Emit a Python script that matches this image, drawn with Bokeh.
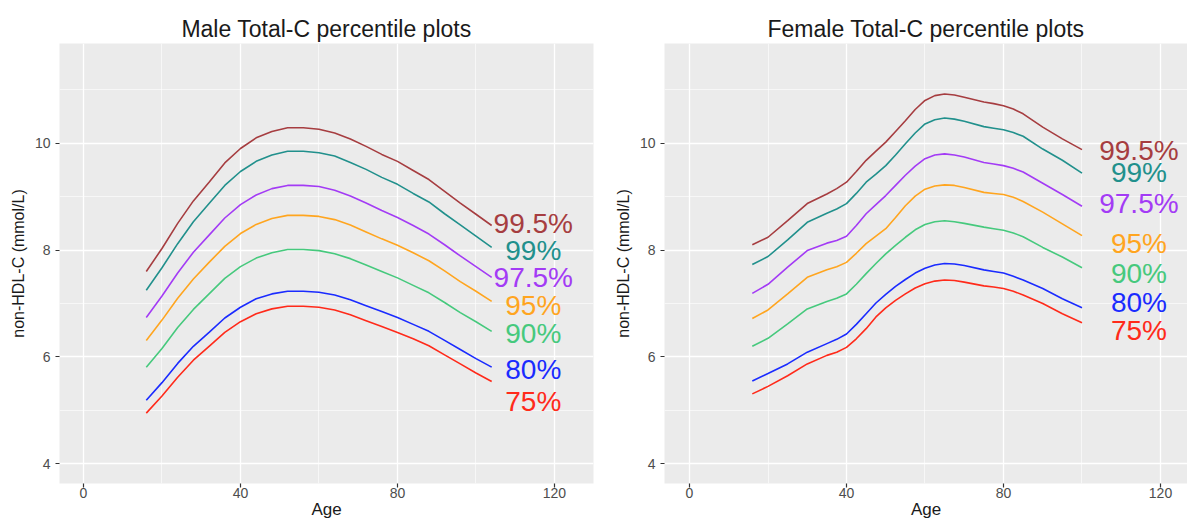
from bokeh.plotting import figure
from bokeh.layouts import row
from bokeh.models import ColumnDataSource, FixedTicker
from bokeh.core.properties import value
from bokeh.embed import file_html
from bokeh.resources import INLINE

FONT = "Liberation Sans"

# ---------------- data ----------------
percentiles = ["99.5%", "99%", "97.5%", "95%", "90%", "80%", "75%"]
colors = ["#A63D40", "#21908C", "#A33BF5", "#FFA51F", "#46C97D", "#1A2BFF", "#FF2A1A"]

male_age = [16, 20, 24, 28, 32, 36, 40, 44, 48, 52, 56, 60, 64, 68, 72, 76, 80, 84, 88, 92, 96, 100, 104]
male_p995 = [7.60, 8.03, 8.50, 8.92, 9.27, 9.63, 9.90, 10.10, 10.22, 10.29, 10.29, 10.26, 10.19, 10.08, 9.94, 9.79, 9.66, 9.49, 9.32, 9.10, 8.88, 8.67, 8.46]
male_p99 = [7.25, 7.67, 8.12, 8.53, 8.87, 9.21, 9.47, 9.66, 9.78, 9.85, 9.85, 9.82, 9.76, 9.64, 9.51, 9.36, 9.23, 9.06, 8.90, 8.68, 8.47, 8.26, 8.05]
male_p975 = [6.74, 7.14, 7.57, 7.96, 8.28, 8.60, 8.85, 9.03, 9.15, 9.21, 9.21, 9.19, 9.12, 9.01, 8.88, 8.74, 8.61, 8.46, 8.30, 8.10, 7.89, 7.69, 7.49]
male_p95 = [6.31, 6.69, 7.10, 7.46, 7.77, 8.07, 8.31, 8.48, 8.59, 8.65, 8.65, 8.63, 8.57, 8.47, 8.34, 8.21, 8.09, 7.95, 7.80, 7.61, 7.41, 7.23, 7.04]
male_p90 = [5.81, 6.16, 6.55, 6.89, 7.18, 7.47, 7.69, 7.85, 7.95, 8.01, 8.01, 7.99, 7.93, 7.84, 7.72, 7.60, 7.48, 7.34, 7.20, 7.02, 6.83, 6.66, 6.48]
male_p80 = [5.19, 5.52, 5.88, 6.20, 6.46, 6.73, 6.93, 7.09, 7.18, 7.23, 7.23, 7.21, 7.16, 7.07, 6.96, 6.85, 6.74, 6.61, 6.48, 6.31, 6.14, 5.97, 5.81]
male_p75 = [4.95, 5.27, 5.62, 5.94, 6.20, 6.46, 6.66, 6.81, 6.90, 6.95, 6.95, 6.93, 6.88, 6.79, 6.68, 6.57, 6.46, 6.34, 6.21, 6.04, 5.87, 5.70, 5.54]
male_label_x = [114.6, 114.6, 114.6, 114.6, 114.6, 114.6, 114.6]
male_label_y = [8.50, 7.99, 7.49, 6.96, 6.44, 5.76, 5.17]

female_age = [16, 20, 25, 30, 35, 37.5, 40, 42.5, 45, 47.5, 50, 52.5, 55, 57.5, 60, 62.5, 65, 67.5,
              70, 75, 77.5, 80, 82.5, 85, 90, 95, 100]
female_p995 = [8.10, 8.24, 8.55, 8.87, 9.05, 9.15, 9.27, 9.47, 9.68, 9.85, 10.02, 10.22, 10.42, 10.63, 10.80, 10.89, 10.92, 10.90,
               10.86, 10.77, 10.74, 10.70, 10.64, 10.55, 10.30, 10.08, 9.88]
female_p99 = [7.73, 7.88, 8.19, 8.52, 8.69, 8.77, 8.87, 9.06, 9.27, 9.42, 9.58, 9.78, 9.99, 10.19, 10.36, 10.44, 10.47, 10.45,
              10.41, 10.31, 10.28, 10.25, 10.20, 10.13, 9.89, 9.68, 9.44]
female_p975 = [7.19, 7.36, 7.68, 7.99, 8.13, 8.18, 8.26, 8.46, 8.68, 8.85, 9.02, 9.21, 9.40, 9.57, 9.71, 9.78, 9.80, 9.78,
               9.74, 9.64, 9.61, 9.58, 9.53, 9.46, 9.25, 9.04, 8.82]
female_p95 = [6.72, 6.88, 7.18, 7.49, 7.63, 7.69, 7.77, 7.94, 8.12, 8.26, 8.40, 8.61, 8.83, 9.01, 9.14, 9.20, 9.22, 9.21,
              9.17, 9.08, 9.06, 9.04, 8.99, 8.91, 8.71, 8.49, 8.27]
female_p90 = [6.20, 6.35, 6.62, 6.90, 7.04, 7.10, 7.18, 7.36, 7.56, 7.75, 7.93, 8.09, 8.24, 8.38, 8.48, 8.53, 8.55, 8.53,
              8.50, 8.43, 8.40, 8.37, 8.32, 8.25, 8.05, 7.87, 7.67]
female_p80 = [5.55, 5.69, 5.87, 6.09, 6.25, 6.33, 6.43, 6.61, 6.81, 7.01, 7.17, 7.32, 7.45, 7.57, 7.66, 7.72, 7.75, 7.74,
              7.71, 7.63, 7.60, 7.57, 7.51, 7.44, 7.28, 7.09, 6.92]
female_p75 = [5.31, 5.45, 5.65, 5.87, 6.03, 6.09, 6.18, 6.34, 6.53, 6.75, 6.92, 7.06, 7.18, 7.29, 7.37, 7.42, 7.44, 7.43,
              7.40, 7.33, 7.31, 7.28, 7.23, 7.16, 7.00, 6.81, 6.64]
female_label_x = [114.5, 114.5, 114.5, 114.5, 114.5, 114.5, 114.5]
female_label_y = [9.86, 9.46, 8.87, 8.12, 7.57, 7.01, 6.50]

x_ticks = [0, 40, 80, 120]
x_minor = [20, 60, 100]
y_ticks = [4, 6, 8, 10]
y_minor = [5, 7, 9, 11]

male_series = [male_p995, male_p99, male_p975, male_p95, male_p90, male_p80, male_p75]
female_series = [female_p995, female_p99, female_p975, female_p95, female_p90, female_p80, female_p75]


def make_panel(title, ages, series, lab_x, lab_y, width, x_range, border_left, border_right,
               title_offset):
    p = figure(width=width, height=521, x_range=x_range, y_range=(3.633, 11.865),
               output_backend="svg", toolbar_location=None,
               min_border_left=border_left, min_border_right=border_right,
               min_border_top=43, min_border_bottom=38)
    p.background_fill_color = "#EBEBEB"
    p.border_fill_color = "white"
    p.outline_line_color = None

    p.title.text = title
    p.title.align = "center"
    p.title.text_font = FONT
    p.title.text_font_size = "23px"
    p.title.text_font_style = "normal"
    p.title.text_color = "#1A1A1A"
    p.title.standoff = 4
    p.title.offset = title_offset

    p.xaxis.ticker = FixedTicker(ticks=x_ticks, minor_ticks=x_minor)
    p.yaxis.ticker = FixedTicker(ticks=y_ticks, minor_ticks=y_minor)
    for ax in (p.xaxis[0], p.yaxis[0]):
        ax.axis_line_color = None
        ax.major_tick_line_color = "#333333"
        ax.major_tick_line_width = 1.2
        ax.major_tick_in = 0
        ax.major_tick_out = 4
        ax.minor_tick_line_color = None
        ax.major_label_text_font = FONT
        ax.major_label_text_font_size = "14px"
        ax.major_label_text_color = "#4D4D4D"
        ax.axis_label_text_font = FONT
        ax.axis_label_text_font_style = "normal"
        ax.axis_label_text_color = "#1A1A1A"
    p.xaxis.major_label_standoff = 0
    p.xaxis.axis_label = "Age"
    p.xaxis.axis_label_text_font_size = "17px"
    p.xaxis.axis_label_standoff = -1
    p.yaxis.major_label_standoff = 5
    p.yaxis.axis_label = "non-HDL-C (mmol/L)"
    p.yaxis.axis_label_text_font_size = "16px"
    p.yaxis.axis_label_standoff = 5

    for g in (p.xgrid[0], p.ygrid[0]):
        g.grid_line_color = "white"
        g.grid_line_width = 1.3
        g.minor_grid_line_color = "white"
        g.minor_grid_line_width = 0.6

    for ys, c in zip(series, colors):
        p.line(ages, ys, line_color=c, line_width=1.6)

    src = ColumnDataSource(dict(x=lab_x, y=lab_y, t=percentiles, c=colors))
    p.text(x="x", y="y", text="t", text_color="c", source=src,
           text_font=value(FONT), text_font_size="28px",
           text_align="center", text_baseline="middle")
    return p


left = make_panel("Male Total-C percentile plots", male_age, male_series,
                  male_label_x, male_label_y, 600, (-6.11, 129.94), 59, 7, 0)
right = make_panel("Female Total-C percentile plots", female_age, female_series,
                   female_label_x, female_label_y, 587, (-6.37, 126.88), 64, 0, 5)

layout = row(left, right, spacing=0)
open("out.html", "w").write(file_html(layout, INLINE))
